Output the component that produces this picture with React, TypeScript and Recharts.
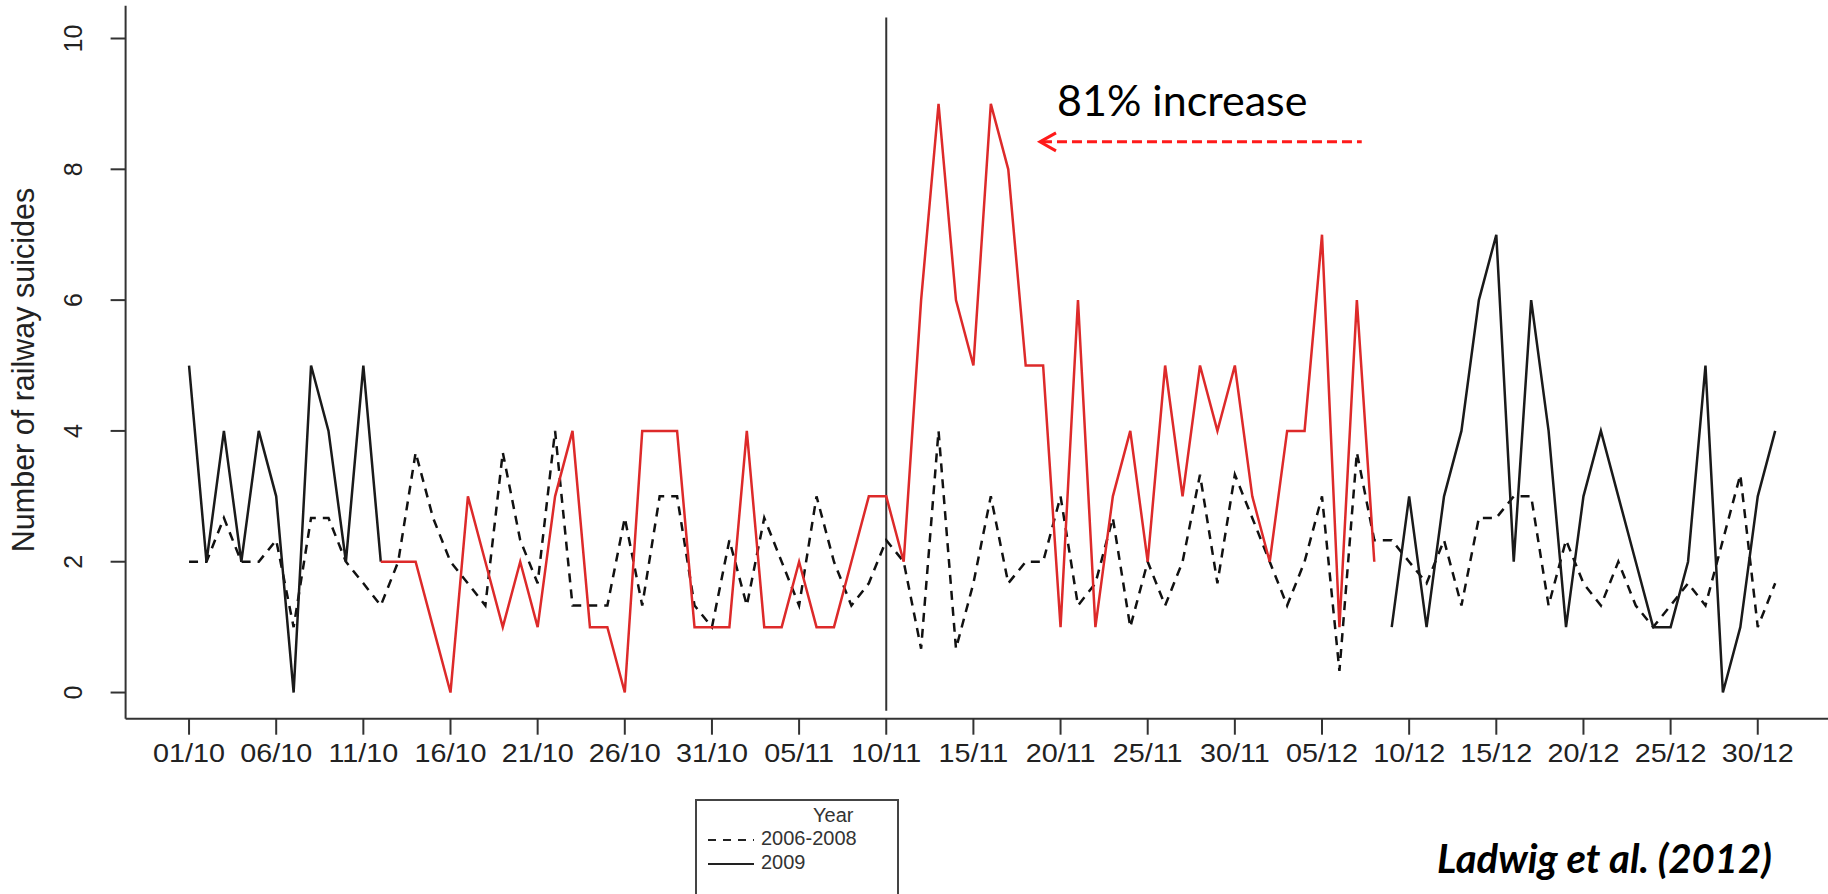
import React from "react";
import { LineChart, Line, XAxis, YAxis, ReferenceLine } from "recharts";

// days counted from 01/10 (day 0) to 31/12 (day 91)
const tickDays = [0, 5, 10, 15, 20, 25, 30, 35, 40, 45, 50, 55, 60, 65, 70, 75, 80, 85, 90];
const tickLabels = [
  "01/10", "06/10", "11/10", "16/10", "21/10", "26/10", "31/10", "05/11", "10/11", "15/11",
  "20/11", "25/11", "30/11", "05/12", "10/12", "15/12", "20/12", "25/12", "30/12",
];
const yTicks = [0, 2, 4, 6, 8, 10];

// mean daily count 2006-2008 (dashed)
const avg2006to2008 = [
  2, 2, 2.67, 2, 2, 2.33, 1, 2.67, 2.67, 2,
  1.67, 1.33, 2, 3.67, 2.67, 2, 1.67, 1.33, 3.67, 2.33,
  1.67, 4, 1.33, 1.33, 1.33, 2.67, 1.33, 3, 3, 1.33,
  1, 2.33, 1.33, 2.67, 2, 1.33, 3, 2, 1.33, 1.67,
  2.33, 2, 0.67, 4, 0.67, 1.67, 3, 1.67, 2, 2,
  3, 1.33, 1.67, 2.67, 1, 2, 1.33, 2, 3.33, 1.67,
  3.33, 2.67, 2, 1.33, 2, 3, 0.33, 3.67, 2.33, 2.33,
  2, 1.67, 2.33, 1.33, 2.67, 2.67, 3, 3, 1.33, 2.33,
  1.67, 1.33, 2, 1.33, 1, 1.33, 1.67, 1.33, 2.33, 3.33,
  1, 1.67,
];

// daily count 2009 (solid)
const counts2009 = [
  5, 2, 4, 2, 4, 3, 0, 5, 4, 2,
  5, 2, 2, 2, 1, 0, 3, 2, 1, 2,
  1, 3, 4, 1, 1, 0, 4, 4, 4, 1,
  1, 1, 4, 1, 1, 2, 1, 1, 2, 3,
  3, 2, 6, 9, 6, 5, 9, 8, 5, 5,
  1, 6, 1, 3, 4, 2, 5, 3, 5, 4,
  5, 3, 2, 4, 4, 7, 1, 6, 2, 1,
  3, 1, 3, 4, 6, 7, 2, 6, 4, 1,
  3, 4, 3, 2, 1, 1, 2, 5, 0, 1,
  3, 4,
];

// highlighted stretch of 2009 (red)
const redFrom = 11;
const redTo = 68;

const data = counts2009.map((v, day) => ({
  day,
  avg: avg2006to2008[day],
  early: day <= redFrom ? v : null,
  red: day >= redFrom && day <= redTo ? v : null,
  late: day > redTo ? v : null,
}));

const axisFont = "'Liberation Sans', Arial, sans-serif";
const ink = "#222";

function XTick({ x, y, payload }: any) {
  const i = tickDays.indexOf(payload.value);
  return (
    <text
      transform={`translate(${x},${y}) scale(1.15,1)`}
      textAnchor="middle"
      dominantBaseline="central"
      fontSize={25}
      fontFamily={axisFont}
      fill={ink}
    >
      {tickLabels[i]}
    </text>
  );
}

function YTick({ x, y, payload }: any) {
  return (
    <text
      transform={`translate(${x},${y}) rotate(-90)`}
      textAnchor="middle"
      dominantBaseline="central"
      fontSize={25}
      fontFamily={axisFont}
      fill={ink}
    >
      {payload.value}
    </text>
  );
}

function Arrow({ x1, y1, x2, y2 }: any) {
  return (
    <g>
      <line x1={x1 + 2} y1={y1} x2={x2} y2={y2} stroke="#ff1a1a" strokeWidth={3} strokeDasharray="10 5" />
      <polyline
        points={`${x1 + 16},${y1 - 9} ${x1},${y1} ${x1 + 16},${y1 + 9}`}
        fill="none"
        stroke="#ff1a1a"
        strokeWidth={3}
      />
    </g>
  );
}

export default function App() {
  return (
    <div style={{ position: "absolute", left: 0, top: 0, width: 1828, height: 894, background: "#fff" }}>
      <LineChart
        width={1828}
        height={894}
        data={data}
        margin={{ top: 5.8, right: 0, bottom: 115.3, left: 25.6 }}
      >
        <XAxis
          xAxisId="top"
          orientation="top"
          dataKey="day"
          type="number"
          domain={[-3.64, 94.03]}
          allowDataOverflow
          height={0}
          tick={false}
          tickLine={false}
          axisLine={{ stroke: "#333", strokeWidth: 2 }}
        />
        <XAxis
          dataKey="day"
          type="number"
          domain={[-3.64, 94.03]}
          allowDataOverflow
          ticks={tickDays}
          interval={0}
          height={60}
          tickSize={16}
          tickMargin={18.5}
          tick={<XTick />}
          tickLine={{ stroke: "#333", strokeWidth: 2 }}
          axisLine={{ stroke: "#333", strokeWidth: 2 }}
        />
        <YAxis
          type="number"
          domain={[-0.4, 10.5]}
          allowDataOverflow
          ticks={yTicks}
          interval={0}
          width={100}
          tickSize={15}
          tickMargin={38}
          tick={<YTick />}
          tickLine={{ stroke: "#333", strokeWidth: 2 }}
          axisLine={{ stroke: "#333", strokeWidth: 2 }}
        />
        <ReferenceLine
          segment={[{ x: 40, y: -0.28 }, { x: 40, y: 10.32 }]}
          stroke="#333"
          strokeWidth={2}
        />
        <ReferenceLine
          segment={[{ x: 48.82, y: 8.42 }, { x: 67.28, y: 8.42 }]}
          shape={<Arrow />}
        />
        <Line
          dataKey="avg"
          stroke="#111"
          strokeWidth={2.5}
          strokeDasharray="9 7"
          dot={false}
          activeDot={false}
          isAnimationActive={false}
        />
        <Line
          dataKey="early"
          stroke="#1a1a1a"
          strokeWidth={2.5}
          dot={false}
          activeDot={false}
          isAnimationActive={false}
        />
        <Line
          dataKey="red"
          stroke="#dd2a2a"
          strokeWidth={2.5}
          dot={false}
          activeDot={false}
          isAnimationActive={false}
        />
        <Line
          dataKey="late"
          stroke="#1a1a1a"
          strokeWidth={2.5}
          dot={false}
          activeDot={false}
          isAnimationActive={false}
        />
      </LineChart>

      {/* y axis title */}
      <div
        style={{
          position: "absolute",
          left: 23,
          top: 370,
          transform: "translate(-50%, -50%) rotate(-90deg)",
          whiteSpace: "nowrap",
          fontFamily: axisFont,
          fontSize: 30.5,
          color: ink,
        }}
      >
        Number of railway suicides
      </div>

      {/* annotation */}
      <div
        style={{
          position: "absolute",
          left: 1057,
          top: 76,
          fontFamily: "Lato, 'Open Sans', sans-serif",
          fontSize: 43,
          lineHeight: "48px",
          color: "#000",
          whiteSpace: "nowrap",
        }}
      >
        81% increase
      </div>

      {/* legend */}
      <div
        style={{
          position: "absolute",
          left: 695,
          top: 799,
          width: 204,
          height: 110,
          border: "2px solid #444",
          fontFamily: axisFont,
          fontSize: 20,
          color: "#333",
          boxSizing: "border-box",
        }}
      >
        <div style={{ position: "absolute", left: 116, top: 3 }}>Year</div>
        <svg style={{ position: "absolute", left: 9, top: 33 }} width={50} height={12}>
          <line x1={2} y1={6} x2={48} y2={6} stroke="#222" strokeWidth={2} strokeDasharray="8 7" />
        </svg>
        <div style={{ position: "absolute", left: 64, top: 26 }}>2006-2008</div>
        <svg style={{ position: "absolute", left: 9, top: 57 }} width={50} height={12}>
          <line x1={2} y1={6} x2={48} y2={6} stroke="#222" strokeWidth={2} />
        </svg>
        <div style={{ position: "absolute", left: 64, top: 50 }}>2009</div>
      </div>

      {/* source */}
      <div
        style={{
          position: "absolute",
          left: 1437,
          top: 834,
          fontFamily: "Lato, 'Open Sans', sans-serif",
          fontSize: 40,
          lineHeight: "48px",
          fontWeight: 700,
          fontStyle: "italic",
          color: "#000",
          whiteSpace: "nowrap",
        }}
      >
        Ladwig et al. (2012)
      </div>
    </div>
  );
}
